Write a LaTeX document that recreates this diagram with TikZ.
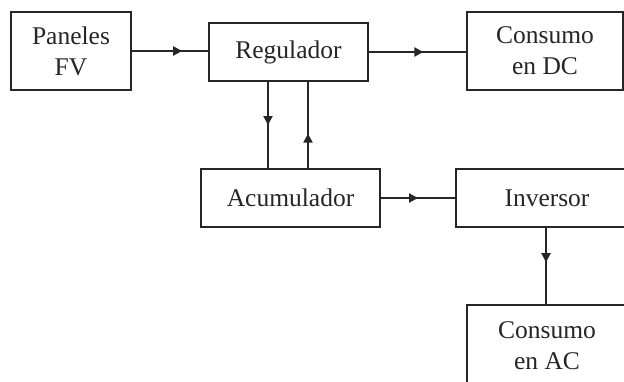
\documentclass[tikz,border=0pt]{standalone}
\usepackage{fontspec}
\setmainfont{Liberation Serif}
\usetikzlibrary{arrows.meta,decorations.markings}
\definecolor{ink}{HTML}{262626}
\begin{document}
\begin{tikzpicture}[x=1pt,y=-1pt,
  blockbox/.style={draw=ink,line width=2pt,align=center,inner sep=0pt,
    text=ink,font=\fontsize{25.5}{31}\selectfont},
  wire/.style={draw=ink,line width=2pt},
  midarrow/.style={postaction={decorate},decoration={markings,
    mark=at position #1 with {\arrow{Triangle[length=9pt,width=9pt]}}}}]
\useasboundingbox (0,0) rectangle (624,381);
\fill[white] (0,0) rectangle (624,381);
\clip (0,0) rectangle (624,381);
% blocks
\node[blockbox,minimum width=120,minimum height=78] (pan) at (71,51) {Paneles\\FV};
\node[blockbox,minimum width=159,minimum height=58] (reg) at (288.5,52) {Regulador};
\node[blockbox,minimum width=156,minimum height=78] (dc) at (545,51) {Consumo\\en DC};
\node[blockbox,minimum width=179,minimum height=58] (acu) at (290.5,198) {Acumulador};
\node[blockbox,minimum width=182,minimum height=58] (inv) at (547,198) {Inversor};
\node[blockbox,minimum width=160,minimum height=82] (ac) at (547,346) {Consumo\\en AC};
% connectors
\draw[wire,midarrow=0.66] (pan.east) -- (pan.east -| reg.west);
\draw[wire,midarrow=0.56] (reg.east) -- (reg.east -| dc.west);
\draw[wire,midarrow=0.5] ([xshift=-20.5pt]reg.south) -- ([xshift=-20.5pt]reg.south |- acu.north);
\draw[wire,midarrow=0.4] ([xshift=19.5pt]reg.south |- acu.north) -- ([xshift=19.5pt]reg.south);
\draw[wire,midarrow=0.5] (acu.east) -- (acu.east -| inv.west);
\draw[wire,midarrow=0.45] ([xshift=-1pt]inv.south) -- ([xshift=-1pt]inv.south |- ac.north);
\end{tikzpicture}
\end{document}
